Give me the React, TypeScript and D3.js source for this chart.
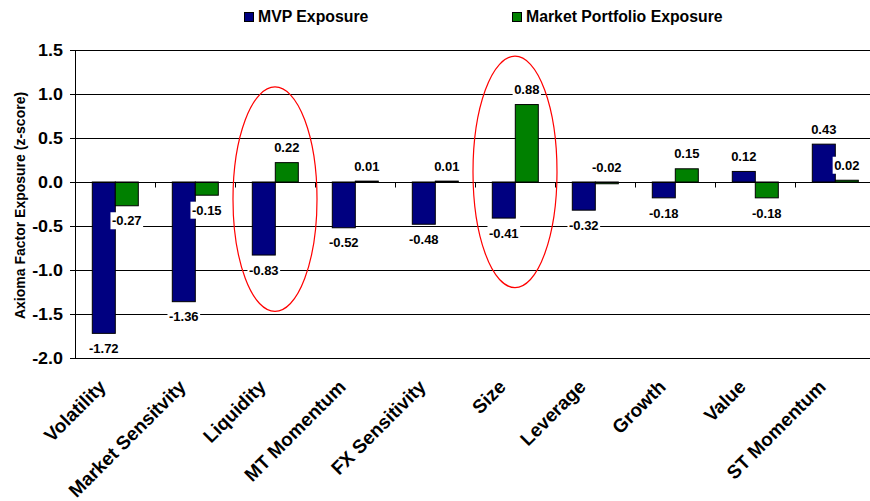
import React, { useEffect, useRef } from "react";
import * as d3 from "d3";

// Factor exposures (z-scores) of the minimum-variance portfolio vs. the market portfolio
const categories = [
  "Volatility",
  "Market Sensitvity",
  "Liquidity",
  "MT Momentum",
  "FX Sensitivity",
  "Size",
  "Leverage",
  "Growth",
  "Value",
  "ST Momentum",
];
const seriesNames = ["MVP Exposure", "Market Portfolio Exposure"];
const mvpExposure = [-1.72, -1.36, -0.83, -0.52, -0.48, -0.41, -0.32, -0.18, 0.12, 0.43];
const marketExposure = [-0.27, -0.15, 0.22, 0.01, 0.01, 0.88, -0.02, 0.15, -0.18, 0.02];
const yTicks = [1.5, 1.0, 0.5, 0.0, -0.5, -1.0, -1.5, -2.0];
const yTitle = "Axioma Factor Exposure (z-score)";

// Factors circled for emphasis, with the vertical span of each ring in z-score units
const highlightCategories = ["Liquidity", "Size"];
const highlightTop = [1.08, 1.43];
const highlightBottom = [-1.47, -1.2];

const W = 870;
const H = 501;
const FONT = "'Liberation Sans', Arial, Helvetica, sans-serif";
const COLORS = ["#000080", "#008000"];

// plain hyphen for negatives
const fmt = (spec: string) => {
  const f = d3.format(spec);
  return (v: number) => f(v).replace("\u2212", "-");
};

export default function App() {
  const ref = useRef<SVGSVGElement>(null);

  useEffect(() => {
    const svg = d3.select(ref.current);
    svg.selectAll("*").remove();

    const left = 75;
    const right = 875;
    const x = d3.scaleBand<string>().domain(categories).range([left, right]).paddingInner(0).paddingOuter(0);
    const x1 = d3.scaleBand<string>().domain(seriesNames).range([17.3, 63.3]);
    const y = d3.scaleLinear().domain([-2, 1.5]).range([358, 50]);
    const crisp = (v: number) => Math.round(y(v)) + 0.5;

    const g = svg.append("g");

    // horizontal gridlines
    g.selectAll("line.grid")
      .data(yTicks.filter((t) => t !== 0))
      .join("line")
      .attr("class", "grid")
      .attr("x1", left)
      .attr("x2", right)
      .attr("y1", (d) => crisp(d))
      .attr("y2", (d) => crisp(d))
      .attr("stroke", "#000")
      .attr("stroke-width", 1);

    // value axis
    g.append("line")
      .attr("x1", left + 0.5)
      .attr("x2", left + 0.5)
      .attr("y1", crisp(1.5))
      .attr("y2", crisp(-2))
      .attr("stroke", "#000");
    g.selectAll("line.ytick")
      .data(yTicks)
      .join("line")
      .attr("class", "ytick")
      .attr("x1", left - 5)
      .attr("x2", left)
      .attr("y1", (d) => crisp(d))
      .attr("y2", (d) => crisp(d))
      .attr("stroke", "#000");
    const yFmt = fmt(".1f");
    g.selectAll("text.ylab")
      .data(yTicks)
      .join("text")
      .attr("class", "ylab")
      .attr("transform", (d) => `translate(${left - 12},${y(d)}) scale(1.12,1)`)
      .attr("dy", "0.36em")
      .attr("text-anchor", "end")
      .attr("font-family", FONT)
      .attr("font-weight", "bold")
      .attr("font-size", 16)
      .text((d) => yFmt(d));

    // axis title
    g.append("text")
      .attr("transform", `translate(25,${(y(1.5) + y(-2)) / 2 + 1.5}) rotate(-90)`)
      .attr("text-anchor", "middle")
      .attr("font-family", FONT)
      .attr("font-weight", "bold")
      .attr("font-size", 14)
      .text(yTitle);

    // bars
    const seriesValues = [mvpExposure, marketExposure];
    const barData = categories.flatMap((c, i) =>
      seriesNames.map((s, si) => ({ c, s, si, v: seriesValues[si][i] }))
    );
    g.selectAll("rect.bar")
      .data(barData)
      .join("rect")
      .attr("class", "bar")
      .attr("x", (d) => (x(d.c) as number) + (x1(d.s) as number))
      .attr("width", x1.bandwidth())
      .attr("y", (d) => Math.min(y(d.v), y(0)))
      .attr("height", (d) => Math.abs(y(d.v) - y(0)))
      .attr("fill", (d) => COLORS[d.si])
      .attr("stroke", "#000")
      .attr("stroke-width", 1);

    // category axis along zero
    g.append("line")
      .attr("x1", left)
      .attr("x2", right)
      .attr("y1", crisp(0))
      .attr("y2", crisp(0))
      .attr("stroke", "#000");
    g.selectAll("line.xtick")
      .data(categories.slice(1))
      .join("line")
      .attr("class", "xtick")
      .attr("x1", (d) => Math.round(x(d) as number) + 0.5)
      .attr("x2", (d) => Math.round(x(d) as number) + 0.5)
      .attr("y1", crisp(0))
      .attr("y2", crisp(0) + 5)
      .attr("stroke", "#000");

    // data labels on white plates
    const vFmt = fmt(".2f");
    const labels = g.selectAll("g.dl").data(barData).join("g").attr("class", "dl");
    labels.each(function (d) {
      const cx = (x(d.c) as number) + (x1(d.s) as number) + x1.bandwidth() / 2;
      const above = d.v >= 0 || Math.abs(d.v) < 0.05;
      const end = above ? Math.min(y(d.v), y(0)) : y(d.v);
      const cy = above ? end - 15 : end + 15;
      const sel = d3.select(this);
      const rect = sel.append("rect").attr("fill", "#fff");
      const t = sel
        .append("text")
        .attr("x", cx)
        .attr("y", cy)
        .attr("dy", "0.36em")
        .attr("text-anchor", "middle")
        .attr("font-family", FONT)
        .attr("font-weight", "bold")
        .attr("font-size", 13)
        .text(vFmt(d.v));
      const bb = (t.node() as SVGTextElement).getBBox();
      rect
        .attr("x", bb.x - 1.5)
        .attr("y", cy - 8.5)
        .attr("width", bb.width + 3)
        .attr("height", 17);
    });

    // category labels, slanted
    g.selectAll("text.cat")
      .data(categories)
      .join("text")
      .attr("class", "cat")
      .attr("transform", (d) => `translate(${(x(d) as number) + x.bandwidth() / 2 - 8},388) rotate(-45)`)
      .attr("text-anchor", "end")
      .attr("font-family", FONT)
      .attr("font-weight", "bold")
      .attr("font-size", 19)
      .text((d) => d);

    // emphasis rings
    g.selectAll("ellipse.ring")
      .data(highlightCategories.map((c, i) => ({ c, top: highlightTop[i], bottom: highlightBottom[i] })))
      .join("ellipse")
      .attr("class", "ring")
      .attr("cx", (d) => (x(d.c) as number) + x.bandwidth() / 2)
      .attr("cy", (d) => (y(d.top) + y(d.bottom)) / 2)
      .attr("rx", x.bandwidth() / 2 + 2)
      .attr("ry", (d) => (y(d.bottom) - y(d.top)) / 2)
      .attr("fill", "none")
      .attr("stroke", "#ff0000")
      .attr("stroke-width", 1.2);

    // legend
    const legendX = [244.5, 512.5];
    const legend = g
      .selectAll("g.leg")
      .data(seriesNames)
      .join("g")
      .attr("class", "leg")
      .attr("transform", (_, i) => `translate(${legendX[i]},12.5)`);
    legend
      .append("rect")
      .attr("width", 9)
      .attr("height", 9)
      .attr("fill", (_, i) => COLORS[i])
      .attr("stroke", "#000");
    legend
      .append("text")
      .attr("x", 13.5)
      .attr("y", 9)
      .attr("font-family", FONT)
      .attr("font-weight", "bold")
      .attr("font-size", 15.8)
      .text((d) => d);
  }, []);

  return (
    <svg
      ref={ref}
      width={W}
      height={H}
      style={{ position: "absolute", left: 0, top: 0, background: "#fff", display: "block" }}
    />
  );
}
